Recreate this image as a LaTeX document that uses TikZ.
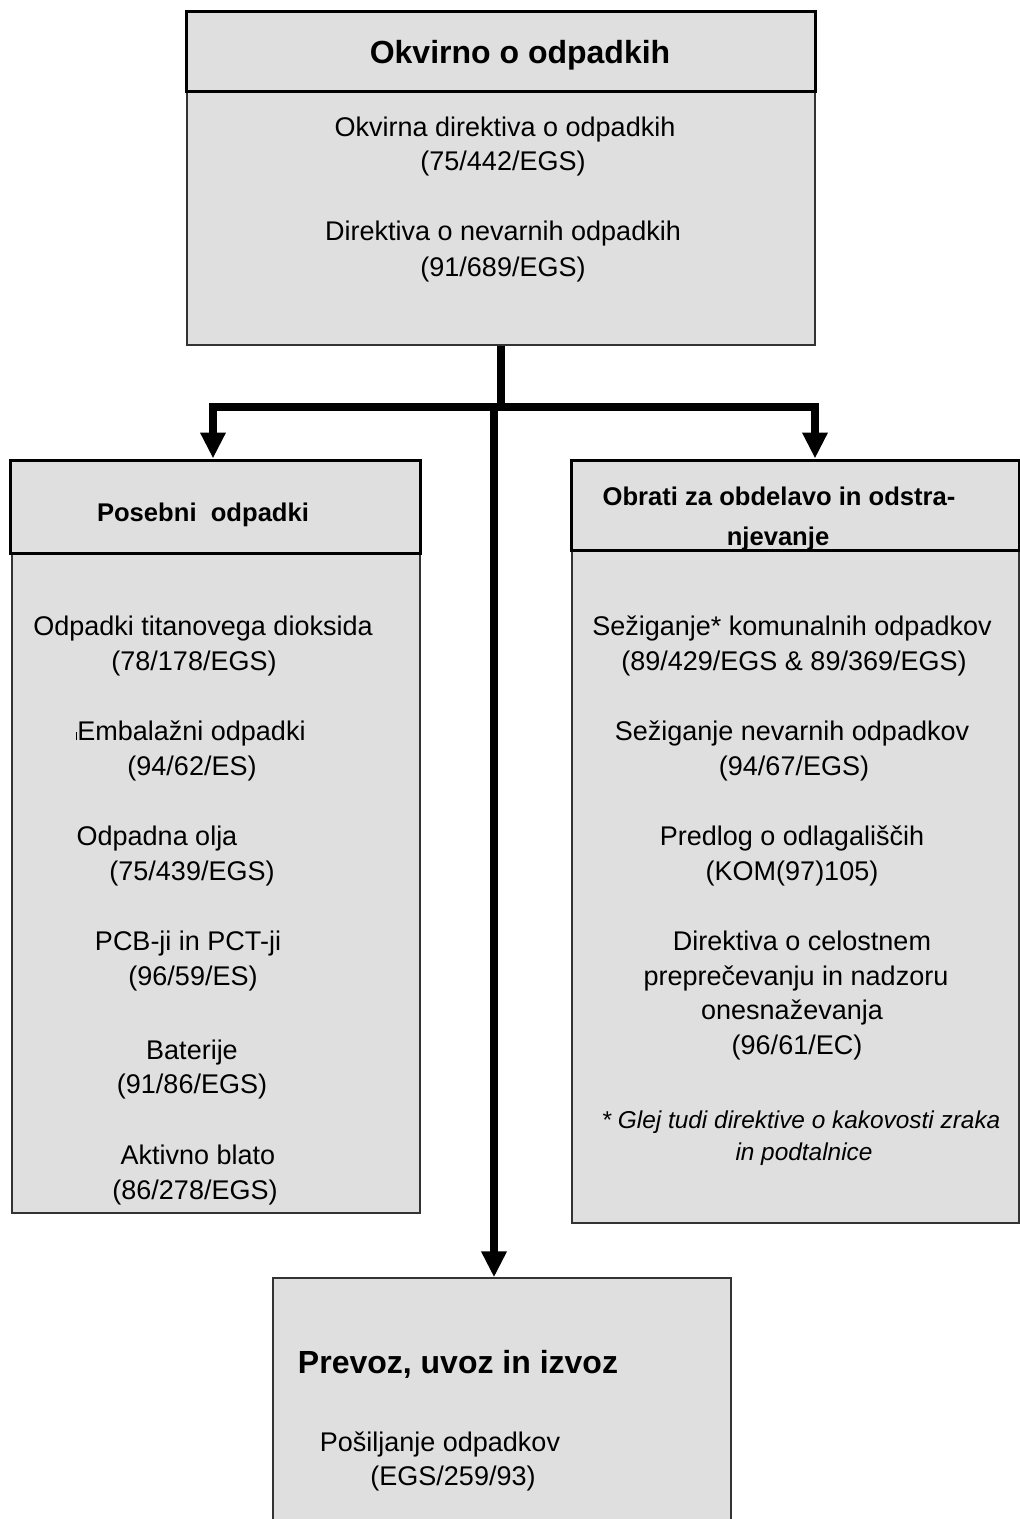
\documentclass[tikz,border=0pt]{standalone}
\usepackage{fontspec}
\setmainfont{Liberation Sans}
\usetikzlibrary{arrows.meta,fit}
\definecolor{boxgray}{RGB}{223,223,223}

\begin{document}
\begin{tikzpicture}[x=0.5pt,y=-0.5pt]
			\tikzset{box/.style={draw=black!80,line width=0.7pt,fill=boxgray,inner sep=0pt}}
			\tikzset{headbox/.style={box,draw=black,line width=1.5pt}}
			\tikzset{txt/.style={anchor=base,inner sep=0pt,font=\fontsize{13.5}{16}\selectfont}}
			\tikzset{note/.style={txt,font=\fontsize{12.2}{15}\selectfont\itshape}}
			\tikzset{head/.style={txt,font=\fontsize{12.8}{16}\selectfont\bfseries}}
			\tikzset{bighead/.style={txt,font=\fontsize{16}{19}\selectfont\bfseries}}
			\tikzset{bar/.style={line width=4pt,line join=miter}}
			\tikzset{arr/.style={bar,-{Triangle[length=13pt,width=12pt]}}}
			\useasboundingbox (0,0) rectangle (1020,1519);
			% boxes
			\node[box,fit={(187,92) (815,345)}] (topC) {};
			\node[headbox,fit={(186,12) (815,92)}] (topH) {};
			\node[box,fit={(12,553) (420,1213)}] (leftC) {};
			\node[headbox,fit={(10,460) (420,553)}] (leftH) {};
			\node[box,fit={(572,550) (1019,1223)}] (rightC) {};
			\node[headbox,fit={(571,460) (1019,550)}] (rightH) {};
			\node[box,fit={(273,1278) (731,1540)}] (botC) {};
			% connectors
			\coordinate (jc) at (494,407);
			\coordinate (jl) at (213,407);
			\coordinate (jr) at (815,407);
			\draw[bar] (topC.south) -- (topC.south |- jc);
			\draw[arr] (jc) -- (jl) -- (jl |- leftH.north);
			\draw[arr] (jc) -- (jr) -- (jr |- rightH.north);
			\draw[arr] (jc) -- (jc |- botC.north);
			% top
			\node[bighead] (tH) at (520,64) {Okvirno o odpadkih};
			\node[txt] (t1) at (505,137) {Okvirna direktiva o odpadkih};
			\node[txt] (t2) at (503,171) {(75/442/EGS)};
			\node[txt] (t3) at (503,241) {Direktiva o nevarnih odpadkih};
			\node[txt] (t4) at (503,277) {(91/689/EGS)};
			% left
			\node[head] (lH) at (203,521) {Posebni\ \ odpadki};
			\node[txt] (l1) at (203,635) {Odpadki titanovega dioksida};
			\node[txt] (l2) at (194,670) {(78/178/EGS)};
			\node[txt] (l3) at (191,740) {\rule{0.5pt}{4pt}Embalažni odpadki};
			\node[txt] (l4) at (192,775) {(94/62/ES)};
			\node[txt] (l5) at (157,845) {Odpadna olja};
			\node[txt] (l6) at (192,880) {(75/439/EGS)};
			\node[txt] (l7) at (188,950) {PCB-ji in PCT-ji};
			\node[txt] (l8) at (193,985) {(96/59/ES)};
			\node[txt] (l9) at (192,1059) {Baterije};
			\node[txt] (l10) at (192,1093) {(91/86/EGS)};
			\node[txt] (l11) at (198,1164) {Aktivno blato};
			\node[txt] (l12) at (195,1199) {(86/278/EGS)};
			% right
			\node[head] (rH1) at (779,505) {Obrati za obdelavo in odstra-};
			\node[head] (rH2) at (778,545) {njevanje};
			\node[txt] (r1) at (792,635) {Sežiganje* komunalnih odpadkov};
			\node[txt] (r2) at (794,670) {(89/429/EGS \& 89/369/EGS)};
			\node[txt] (r3) at (792,740) {Sežiganje nevarnih odpadkov};
			\node[txt] (r4) at (794,775) {(94/67/EGS)};
			\node[txt] (r5) at (792,845) {Predlog o odlagališčih};
			\node[txt] (r6) at (792,880) {(KOM(97)105)};
			\node[txt] (r7) at (802,950) {Direktiva o celostnem};
			\node[txt] (r8) at (796,985) {preprečevanju in nadzoru};
			\node[txt] (r9) at (792,1019) {onesnaževanja};
			\node[txt] (r10) at (797,1054) {(96/61/EC)};
			\node[note] (r11) at (801,1128) {* Glej tudi direktive o kakovosti zraka};
			\node[note] (r12) at (804,1160) {in podtalnice};
			% bottom
			\node[bighead] (bH) at (458,1373) {Prevoz, uvoz in izvoz};
			\node[txt] (b1) at (440,1451) {Pošiljanje odpadkov};
			\node[txt] (b2) at (453,1485) {(EGS/259/93)};
		\end{tikzpicture}
\end{document}
